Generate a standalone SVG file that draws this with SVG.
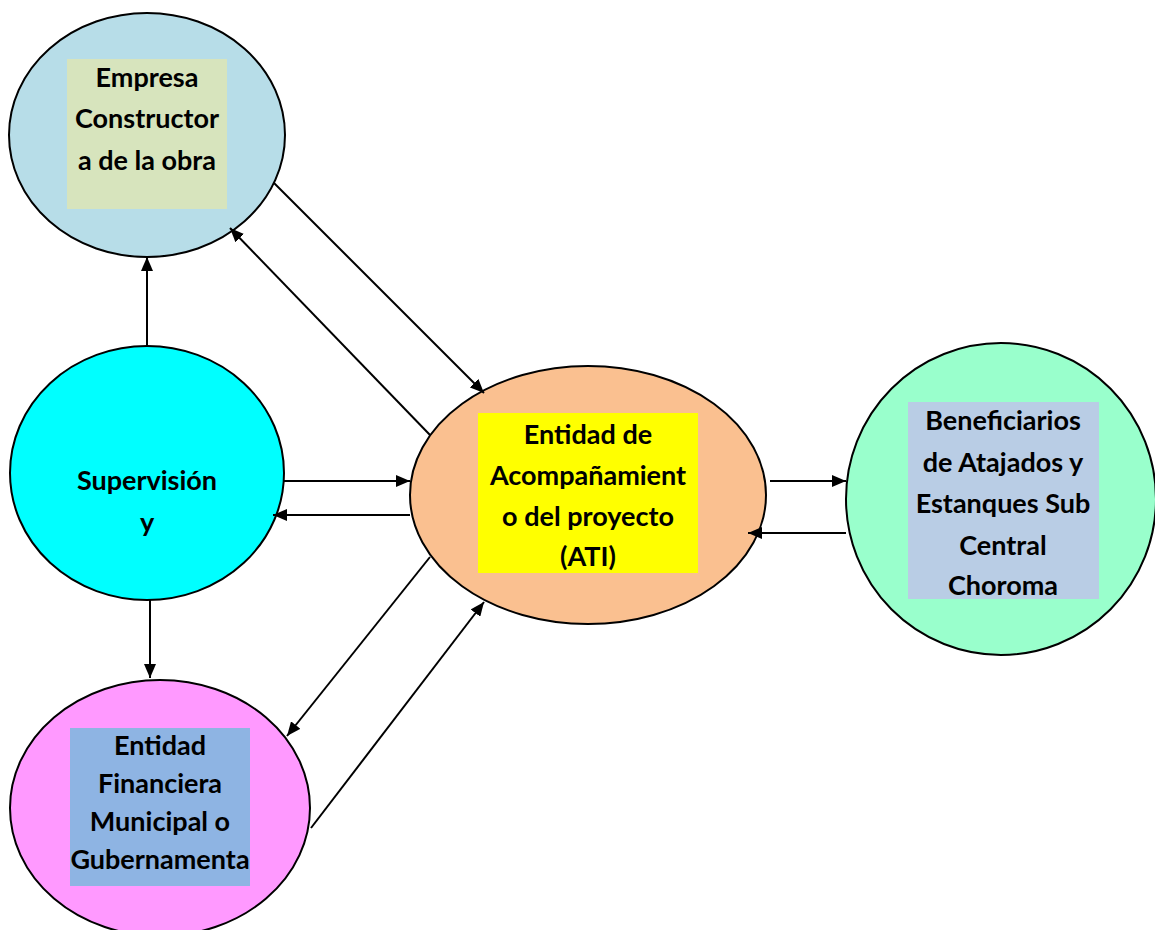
<svg xmlns="http://www.w3.org/2000/svg" width="1155" height="930" viewBox="0 0 1155 930">
<defs>
<marker id="arr" viewBox="0 0 14 12" refX="14" refY="6" markerWidth="14" markerHeight="12" markerUnits="userSpaceOnUse" orient="auto">
<path d="M0,0 L14,6 L0,12 Z" fill="#000"/>
</marker>
</defs>
<style>
.node{stroke:#000;stroke-width:2}
.lbl{font-family:Lato,"Liberation Sans",sans-serif;font-weight:bold;font-size:27px;fill:#000;text-anchor:middle}
.c{stroke:#000;stroke-width:2;fill:none;marker-end:url(#arr)}
</style>
<rect width="1155" height="930" fill="#fff"/>
<g id="empresa">
<ellipse class="node" cx="147" cy="135" rx="138" ry="122" fill="#B7DDE8"/>
<rect x="67" y="59" width="160" height="150" fill="#D7E4BD"/>
<text class="lbl" x="147" y="87">Empresa</text>
<text class="lbl" x="147" y="128">Constructor</text>
<text class="lbl" x="147" y="170">a de la obra</text>
</g>
<g id="supervision">
<ellipse class="node" cx="147" cy="473" rx="137" ry="127" fill="#00FFFF"/>
<text class="lbl" x="147" y="490">Supervisión</text>
<text class="lbl" x="147" y="532">y</text>
</g>
<g id="financiera">
<ellipse class="node" cx="160" cy="808" rx="150" ry="128" fill="#FF99FF"/>
<rect x="70" y="728" width="180" height="158" fill="#8EB4E3"/>
<text class="lbl" x="160" y="755">Entidad</text>
<text class="lbl" x="160" y="793">Financiera</text>
<text class="lbl" x="160" y="831">Municipal o</text>
<text class="lbl" x="160" y="869">Gubernamenta</text>
</g>
<g id="ati">
<ellipse class="node" cx="588" cy="495" rx="178" ry="129" fill="#FAC090"/>
<rect x="478" y="413" width="220" height="160" fill="#FFFF00"/>
<text class="lbl" x="588" y="444">Entidad de</text>
<text class="lbl" x="588" y="485">Acompañamient</text>
<text class="lbl" x="588" y="526">o del proyecto</text>
<text class="lbl" x="588" y="566">(ATI)</text>
</g>
<g id="beneficiarios">
<ellipse class="node" cx="1001" cy="499" rx="155" ry="156" fill="#99FFCC"/>
<rect x="908" y="402" width="191" height="197" fill="#B9CDE5"/>
<text class="lbl" x="1003" y="430">Beneficiarios</text>
<text class="lbl" x="1003" y="472">de Atajados y</text>
<text class="lbl" x="1003" y="513">Estanques Sub</text>
<text class="lbl" x="1003" y="555">Central</text>
<text class="lbl" x="1003" y="595">Choroma</text>
</g>
<g id="connectors">
<path class="c" d="M147,346 L147,257"/>
<path class="c" d="M274,183 L484,393"/>
<path class="c" d="M430,435 L230,228"/>
<path class="c" d="M284,481 L410,481"/>
<path class="c" d="M410,515 L273,515"/>
<path class="c" d="M150,600 L150,678"/>
<path class="c" d="M430,557 L287,736"/>
<path class="c" d="M311,828 L484,602"/>
<path class="c" d="M770,481 L846,481"/>
<path class="c" d="M846,533 L748,533"/>
</g>
</svg>
